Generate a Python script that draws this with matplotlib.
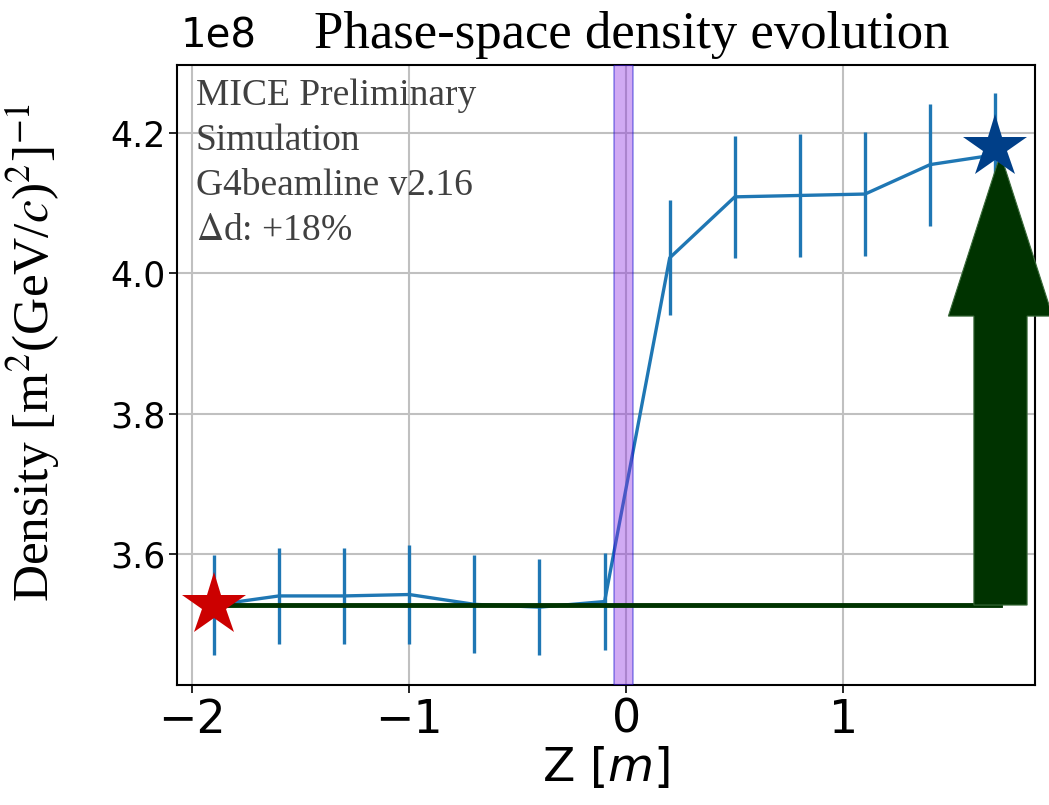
import numpy as np
import matplotlib
matplotlib.use('Agg')
import matplotlib.pyplot as plt

# data
z = [-1.9, -1.6, -1.3, -1.0, -0.7, -0.4, -0.1, 0.2, 0.5, 0.8, 1.1, 1.4, 1.7]
density = [3.527, 3.540, 3.540, 3.542, 3.528, 3.524, 3.532,
           4.022, 4.109, 4.111, 4.113, 4.155, 4.169]
density_err = [0.071, 0.069, 0.069, 0.071, 0.070, 0.068, 0.069,
               0.082, 0.087, 0.088, 0.088, 0.087, 0.088]

absorber = (-0.057, 0.029)
start_density = 3.527
end_density = 4.18
arrow_x = 1.724
arrow_top = 4.17

text_lines = ['MICE Preliminary', 'Simulation', 'G4beamline v2.16', r'$\Delta$d: +18%']

fig = plt.figure(figsize=(10.49, 8.05), dpi=100)
ax = fig.add_axes([177/1049, 120/805, 858/1049, 620/805])

ax.errorbar(z, density, yerr=density_err, color='#1f77b4', lw=2.4, elinewidth=2.4, zorder=3)
ax.axvspan(absorber[0], absorber[1], facecolor='#8a2be2', alpha=0.4, edgecolor='#0000cc',
           lw=1.2, zorder=4)

# reference line + arrow
ax.plot([z[0], arrow_x], [start_density, start_density], color='#003300', lw=3.5, zorder=5)
ax.arrow(arrow_x, start_density, 0, arrow_top - start_density, width=0.245, head_width=0.48,
         head_length=0.231, length_includes_head=True, fc='#003300', ec='#3a6a3a', lw=0.8,
         clip_on=False, zorder=6)

ax.plot(z[0], start_density, marker='*', ms=48, color='#cc0000', mew=0, zorder=7, clip_on=False)
ax.plot(z[-1], end_density, marker='*', ms=48, color='#003f88', mew=0, zorder=7, clip_on=False)

ax.set_xlim(-2.07, 1.883)
ax.set_ylim(3.413, 4.297)
ax.set_xticks([-2, -1, 0, 1])
ax.set_yticks([3.6, 3.8, 4.0, 4.2])
ax.set_yticklabels(['3.6', '3.8', '4.0', '4.2'])
ax.tick_params(axis='y', labelsize=25, length=6, width=1.2, pad=2)
ax.tick_params(axis='x', labelsize=33, length=6, width=1.2, pad=3)
ax.grid(True, color='#c0c0c0', lw=1.5)
ax.set_axisbelow(True)
for s in ax.spines.values():
    s.set_linewidth(1.5)

fig.text(181/1049, 1 - 47/805, '1e8', fontsize=29, ha='left', va='baseline')

ax.set_title('Phase-space density evolution', family='Liberation Serif', fontsize=38,
             x=0.53, pad=12)
ax.set_xlabel(r'Z [$m$]', fontsize=34, labelpad=2)
ax.set_ylabel(r'Density [m$^2$(GeV/$c$)$^2$]$^{-1}$', family='Liberation Serif',
              math_fontfamily='stix', fontsize=37)
ax.yaxis.set_label_coords(-0.134, 0.537)

for i, t in enumerate(text_lines):
    ax.text(0.022, 0.95 - i * 0.0726, t, transform=ax.transAxes, family='Liberation Serif',
            math_fontfamily='stix', fontsize=27, color='#404040', va='center', ha='left')

fig.savefig('out.png', dpi=100)
